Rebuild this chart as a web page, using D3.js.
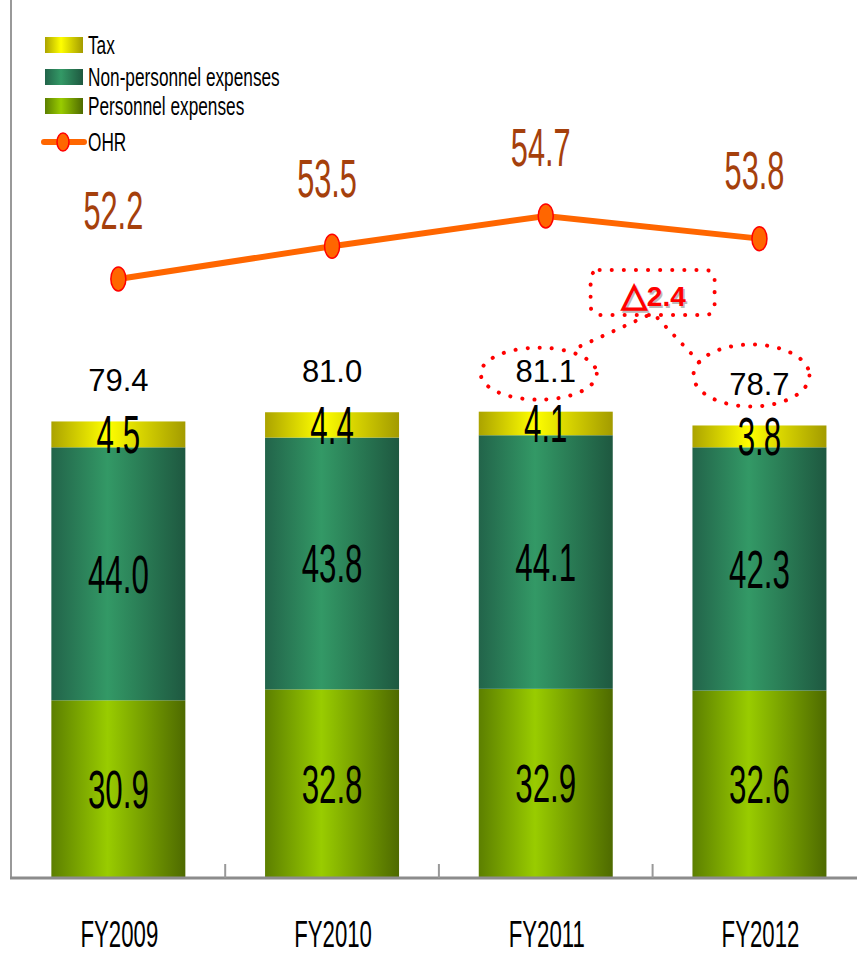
<!DOCTYPE html>
<html>
<head>
<meta charset="utf-8">
<script src="https://cdn.jsdelivr.net/npm/d3@7"></script>
<style>
  body { margin: 0; background: #fff; }
  text { font-family: "Liberation Sans", Arial, sans-serif; }
</style>
</head>
<body>
<div class="chart"></div>
<script>
// chart data
var years = ["FY2009", "FY2010", "FY2011", "FY2012"];
var personnel = [30.9, 32.8, 32.9, 32.6];
var nonPersonnel = [44.0, 43.8, 44.1, 42.3];
var tax = [4.5, 4.4, 4.1, 3.8];
var totals = [79.4, 81.0, 81.1, 78.7];
var ohr = [52.2, 53.5, 54.7, 53.8];
var seriesNames = ["Tax", "Non-personnel expenses", "Personnel expenses", "OHR"];

var widthSVG = 857;
var heightSVG = 955;
var baseY = 878;

var svg = d3.select(".chart")
  .append("svg")
  .attr("width", widthSVG)
  .attr("height", heightSVG);

// gradients: dark edges, bright middle
var defs = svg.append("defs");
function gradient(id, left, mid, right) {
  var g = defs.append("linearGradient").attr("id", id)
    .attr("x1", "0%").attr("x2", "100%").attr("y1", "0%").attr("y2", "0%");
  g.append("stop").attr("offset", "0%").attr("stop-color", left);
  g.append("stop").attr("offset", "42%").attr("stop-color", mid);
  g.append("stop").attr("offset", "100%").attr("stop-color", right);
}
gradient("gTax", "#ABA300", "#FFFF00", "#A39B00");
gradient("gNon", "#22644A", "#339966", "#1E5840");
gradient("gPer", "#5C7F00", "#99CC00", "#4E6A00");

var fills = { personnel: "url(#gPer)", nonPersonnel: "url(#gNon)", tax: "url(#gTax)" };

var table = years.map(function (y, i) {
  return { year: y, personnel: personnel[i], nonPersonnel: nonPersonnel[i], tax: tax[i], total: totals[i], ohr: ohr[i] };
});

// scales
var x = d3.scaleBand()
  .domain(years)
  .range([11.5, 866.3])
  .paddingInner(0.373)
  .paddingOuter(0.1865);

var y = d3.scaleLinear().domain([0, 100]).range([baseY, baseY - 575]);
var yR = d3.scaleLinear().domain([40, 60]).range([586.4, 82.4]);

var gap = x.step() - x.bandwidth();

// squeezed (tall narrow) text helper
function squeezed(g, px, py, txt, size, sx) {
  return g.append("text")
    .attr("transform", `translate(${px},${py}) scale(${sx},1)`)
    .attr("text-anchor", "middle")
    .attr("font-size", size)
    .text(txt);
}

// stacked bars
var stack = d3.stack().keys(["personnel", "nonPersonnel", "tax"]);
var layers = stack(table);

var barGroup = svg.append("g");
layers.forEach(function (layer) {
  barGroup.selectAll(".bar-" + layer.key)
    .data(layer)
    .enter()
    .append("rect")
    .attr("x", d => x(d.data.year))
    .attr("y", d => y(d[1]))
    .attr("width", x.bandwidth())
    .attr("height", d => y(d[0]) - y(d[1]))
    .attr("fill", fills[layer.key]);
});

// axes
svg.append("line")
  .attr("x1", 11).attr("x2", 11).attr("y1", 0).attr("y2", baseY)
  .attr("stroke", "#999").attr("stroke-width", 2);
svg.append("line")
  .attr("x1", 10).attr("x2", widthSVG).attr("y1", baseY).attr("y2", baseY)
  .attr("stroke", "#8c8c8c").attr("stroke-width", 3);
svg.selectAll(".tick")
  .data(years.slice(1))
  .enter()
  .append("line")
  .attr("x1", d => x(d) - gap / 2).attr("x2", d => x(d) - gap / 2)
  .attr("y1", baseY - 14).attr("y2", baseY)
  .attr("stroke", "#999").attr("stroke-width", 2);

// category labels
years.forEach(function (yr) {
  squeezed(svg, x(yr) + x.bandwidth() / 2 + 1, 947, yr, 37, 0.6).attr("fill", "#000");
});

// segment labels
var labelGroup = svg.append("g");
layers.forEach(function (layer) {
  layer.forEach(function (d) {
    var mid = (y(d[0]) + y(d[1])) / 2;
    squeezed(labelGroup, x(d.data.year) + x.bandwidth() / 2, mid + 19,
      d3.format(".1f")(d.data[layer.key]), 53, 0.59).attr("fill", "#000");
  });
});

// totals on top
table.forEach(function (d) {
  svg.append("text")
    .attr("x", x(d.year) + x.bandwidth() / 2)
    .attr("y", y(d.total) - 30)
    .attr("text-anchor", "middle")
    .attr("font-size", 31)
    .attr("fill", "#000")
    .text(d3.format(".1f")(d.total));
});

// OHR line
var cx = d => x(d.year) + x.bandwidth() / 2;
var line = d3.line().x(cx).y(d => yR(d.ohr));
svg.append("path")
  .datum(table)
  .attr("d", line)
  .attr("fill", "none")
  .attr("stroke", "#FF6600")
  .attr("stroke-width", 6);

svg.selectAll(".marker")
  .data(table)
  .enter()
  .append("ellipse")
  .attr("cx", cx)
  .attr("cy", d => yR(d.ohr))
  .attr("rx", 7.5)
  .attr("ry", 12)
  .attr("fill", "#FF6600")
  .attr("stroke", "#FF0000")
  .attr("stroke-width", 1.5);

table.forEach(function (d) {
  squeezed(svg, cx(d) - 5, yR(d.ohr) - 49.5, d3.format(".1f")(d.ohr), 53, 0.58)
    .attr("fill", "#A5400C");
});

// annotation: 81.1 vs 78.7
var red = "#FF0000";
var dotted = function (sel) {
  return sel.attr("fill", "none").attr("stroke", red).attr("stroke-width", 4)
    .attr("stroke-linecap", "round").attr("stroke-dasharray", "0.1 12");
};
var a = table[2], b = table[3];
var e1 = { x: cx(a) - 7, y: y(a.total) - 38 };
var e2 = { x: cx(b) - 8, y: y(b.total) - 50 };
dotted(svg.append("ellipse").attr("cx", e1.x).attr("cy", e1.y).attr("rx", 58).attr("ry", 26));
dotted(svg.append("ellipse").attr("cx", e2.x).attr("cy", e2.y).attr("rx", 58).attr("ry", 31));

var boxX = x(b.year) - gap / 2;
dotted(svg.append("rect").attr("x", boxX - 62).attr("y", 270).attr("width", 124).attr("height", 45).attr("rx", 9));
dotted(svg.append("path").attr("d", `M${boxX - 6},316 L${e1.x + 34},${e1.y - 24}`));
dotted(svg.append("path").attr("d", `M${boxX + 5},318 L${e2.x - 47},${e2.y - 8}`));

var delta = d3.format(".1f")(a.total - b.total);
function deltaText(dx, dy, color) {
  var t = svg.append("text")
    .attr("x", boxX + 1 + dx).attr("y", 306 + dy)
    .attr("text-anchor", "middle").attr("font-size", 28).attr("font-weight", "bold")
    .attr("fill", color);
  t.append("tspan").attr("font-family", "DejaVu Sans").attr("font-size", 33)
    .attr("stroke", color).attr("stroke-width", 1.6).text("\u25B3");
  t.append("tspan").text(delta);
}
deltaText(1.5, 1.5, "#bbb");
deltaText(0, 0, red);

// legend
var legend = svg.append("g");
var legendFills = ["url(#gTax)", "url(#gNon)", "url(#gPer)"];
var rowsY = [45, 77, 106, 142];
seriesNames.forEach(function (name, i) {
  if (i < 3) {
    legend.append("rect")
      .attr("x", 45).attr("y", rowsY[i] - 8).attr("width", 38).attr("height", 16)
      .attr("fill", legendFills[i]);
  } else {
    legend.append("line")
      .attr("x1", 44).attr("x2", 84).attr("y1", rowsY[i]).attr("y2", rowsY[i])
      .attr("stroke", "#FF6600").attr("stroke-width", 6).attr("stroke-linecap", "round");
    legend.append("ellipse")
      .attr("cx", 63).attr("cy", rowsY[i]).attr("rx", 6).attr("ry", 9)
      .attr("fill", "#FF6600").attr("stroke", red).attr("stroke-width", 1.5);
  }
  legend.append("text")
    .attr("transform", `translate(88,${rowsY[i] + 9}) scale(0.69,1)`)
    .attr("font-size", 25)
    .attr("fill", "#000")
    .text(name);
});
</script>
</body>
</html>
